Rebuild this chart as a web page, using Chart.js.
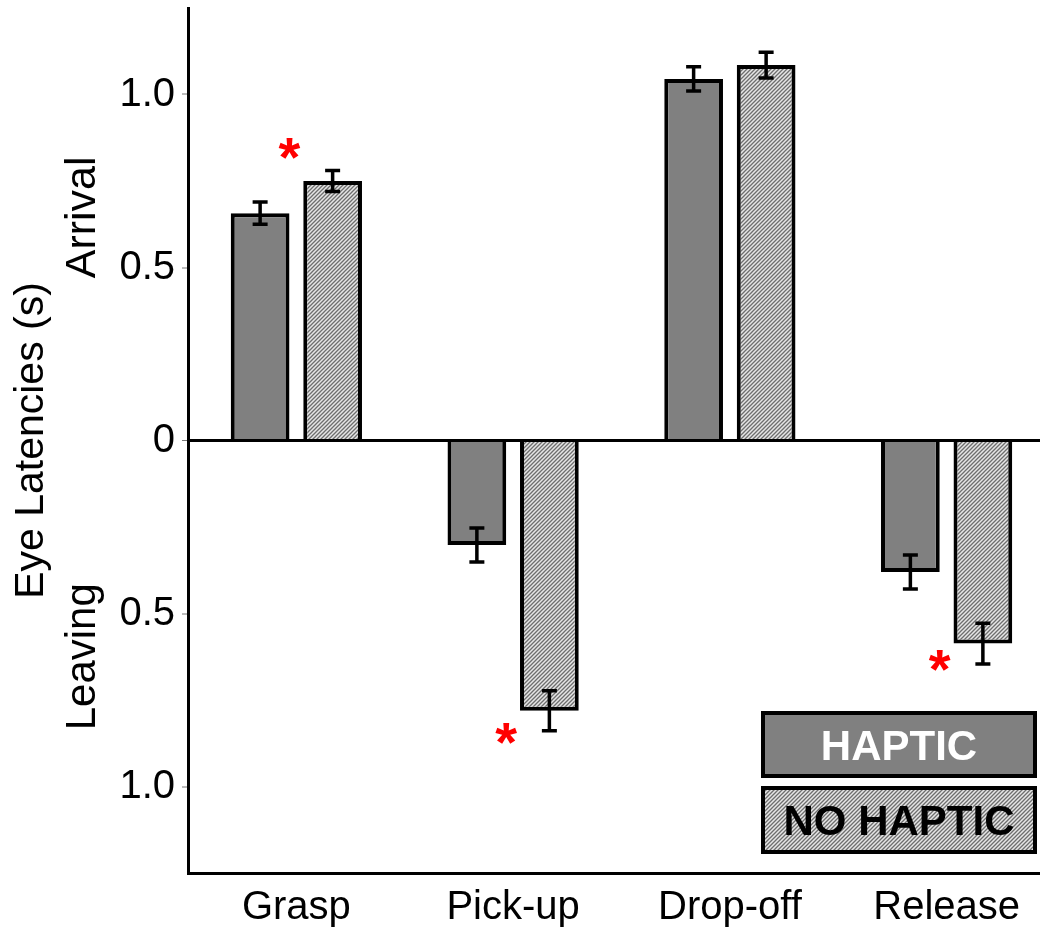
<!DOCTYPE html>
<html>
<head>
<meta charset="utf-8">
<script src="https://cdn.jsdelivr.net/npm/chart.js@4/dist/chart.umd.min.js"></script>
<style>
  html, body { margin: 0; padding: 0; background: #fff; overflow: hidden; }
  #wrap { width: 1040px; height: 927px; overflow: hidden; position: relative; }
  canvas { display: block; }
</style>
</head>
<body>
<div id="wrap"><canvas id="c" width="1055" height="927"></canvas></div>
<script>
// Eye latency per task phase: positive = arrival, negative = leaving (seconds)
const categories = ['Grasp', 'Pick-up', 'Drop-off', 'Release'];
const seriesNames = ['HAPTIC', 'NO HAPTIC'];
const hapticLatency = [0.657, -0.302, 1.045, -0.380];
const hapticError = [0.032, 0.049, 0.035, 0.049];
const noHapticLatency = [0.750, -0.781, 1.085, -0.587];
const noHapticError = [0.030, 0.058, 0.037, 0.059];
// significance marks (value level where the asterisk sits, null = none)
const significanceAt = [0.845, -0.848, null, -0.637];
const yTickValues = [-1.0, -0.5, 0, 0.5, 1.0];
const yTickLabels = ['1.0', '0.5', '0', '0.5', '1.0'];

const FONT = '"Liberation Sans", Arial, Helvetica, sans-serif';

function makeHatch() {
  const s = 4;
  const c = document.createElement('canvas');
  c.width = s; c.height = s;
  const g = c.getContext('2d');
  g.fillStyle = '#e6e6e6';
  g.fillRect(0, 0, s, s);
  g.strokeStyle = '#6e6e6e';
  g.lineWidth = 1.3;
  g.beginPath();
  g.moveTo(0, s); g.lineTo(s, 0);
  g.moveTo(-s, s); g.lineTo(s, -s);
  g.moveTo(0, 2 * s); g.lineTo(2 * s, 0);
  g.stroke();
  return g.createPattern(c, 'repeat');
}
const hatch = makeHatch();

const errorBars = {
  id: 'errorBars',
  afterDatasetsDraw(chart) {
    const ctx = chart.ctx;
    const y = chart.scales.y;
    const errs = [hapticError, noHapticError];
    ctx.save();
    ctx.strokeStyle = '#000';
    ctx.lineWidth = 3.5;
    chart.data.datasets.forEach((ds, di) => {
      chart.getDatasetMeta(di).data.forEach((bar, i) => {
        const v = ds.data[i], e = errs[di][i];
        const y1 = y.getPixelForValue(v + e), y2 = y.getPixelForValue(v - e);
        ctx.beginPath();
        ctx.moveTo(bar.x, y1); ctx.lineTo(bar.x, y2);
        ctx.moveTo(bar.x - 7.5, y1); ctx.lineTo(bar.x + 7.5, y1);
        ctx.moveTo(bar.x - 7.5, y2); ctx.lineTo(bar.x + 7.5, y2);
        ctx.stroke();
      });
    });
    // significance asterisks, placed at the inner edge of the HAPTIC bar
    ctx.fillStyle = '#ff0000';
    ctx.font = 'bold 56px ' + FONT;
    ctx.textAlign = 'center';
    ctx.textBaseline = 'alphabetic';
    const m = ctx.measureText('*');
    const meta = chart.getDatasetMeta(0);
    significanceAt.forEach((lv, i) => {
      if (lv === null) return;
      const bar = meta.data[i];
      const cx = bar.x + bar.width / 2;
      const cy = y.getPixelForValue(lv);
      const off = (m.actualBoundingBoxAscent - m.actualBoundingBoxDescent) / 2;
      ctx.fillText('*', cx, cy + off);
    });
    ctx.restore();
  }
};

const sideText = {
  id: 'sideText',
  afterDraw(chart) {
    const ctx = chart.ctx;
    const y = chart.scales.y;
    ctx.save();
    ctx.fillStyle = '#000';
    ctx.textAlign = 'center';
    ctx.textBaseline = 'alphabetic';
    const rot = (txt, x, cy, size) => {
      ctx.save();
      ctx.translate(x, cy);
      ctx.rotate(-Math.PI / 2);
      ctx.font = size + 'px ' + FONT;
      ctx.fillText(txt, 0, 0);
      ctx.restore();
    };
    const mid = (chart.chartArea.top + chart.chartArea.bottom) / 2;
    rot('Eye Latencies (s)', 43, mid, 41);
    rot('Arrival', 95, y.getPixelForValue(0.645), 43);
    rot('Leaving', 95, y.getPixelForValue(-0.625), 42);

    // legend boxes
    const boxes = [
      { x: 761, y: 711, w: 276, h: 67, fill: chart.data.datasets[0].backgroundColor, color: '#fff' },
      { x: 761, y: 786, w: 276, h: 68, fill: chart.data.datasets[1].backgroundColor, color: '#000' }
    ];
    ctx.font = 'bold 42px ' + FONT;
    ctx.textBaseline = 'alphabetic';
    boxes.forEach((b, i) => {
      ctx.fillStyle = b.fill;
      ctx.fillRect(b.x, b.y, b.w, b.h);
      ctx.lineWidth = 4;
      ctx.strokeStyle = '#000';
      ctx.strokeRect(b.x + 2, b.y + 2, b.w - 4, b.h - 4);
      ctx.fillStyle = b.color;
      ctx.fillText(chart.data.datasets[i].label, b.x + b.w / 2, b.y + b.h / 2 + 15);
    });
    ctx.restore();
  }
};

const barStyle = {
  borderColor: '#000',
  borderWidth: 4,
  borderSkipped: 'start',
  categoryPercentage: 0.669,
  barPercentage: 0.81
};

new Chart(document.getElementById('c'), {
  type: 'bar',
  data: {
    labels: categories,
    datasets: [
      Object.assign({ label: seriesNames[0], data: hapticLatency, backgroundColor: '#808080' }, barStyle),
      Object.assign({ label: seriesNames[1], data: noHapticLatency, backgroundColor: hatch }, barStyle)
    ]
  },
  options: {
    responsive: false,
    animation: false,
    layout: { padding: { top: 8, left: 0, right: 0, bottom: 0 } },
    plugins: { legend: { display: false }, tooltip: { enabled: false } },
    scales: {
      x: {
        grid: { display: false, drawTicks: false },
        border: { color: '#000', width: 3 },
        ticks: { color: '#000', font: { family: FONT, size: 40 }, padding: 11, maxRotation: 0 },
        afterFit(s) { s.height = 54; s.paddingLeft = 0; s.paddingRight = 0; }
      },
      y: {
        z: 1,
        min: -1.25,
        max: 1.25,
        afterBuildTicks(s) { s.ticks = yTickValues.map(v => ({ value: v })); },
        ticks: {
          color: '#000',
          font: { family: FONT, size: 40 },
          padding: 7,
          callback: (v, i) => yTickLabels[i]
        },
        grid: {
          color: c => (c.tick && c.tick.value === 0) ? '#000' : 'rgba(0,0,0,0)',
          lineWidth: c => (c.tick && c.tick.value === 0) ? 3 : 0,
          tickColor: '#777',
          tickWidth: 1,
          tickLength: 6
        },
        border: { color: '#000', width: 3 },
        afterFit(s) { s.width = 188; s.paddingTop = 0; s.paddingBottom = 0; }
      }
    }
  },
  plugins: [errorBars, sideText]
});
</script>
</body>
</html>
